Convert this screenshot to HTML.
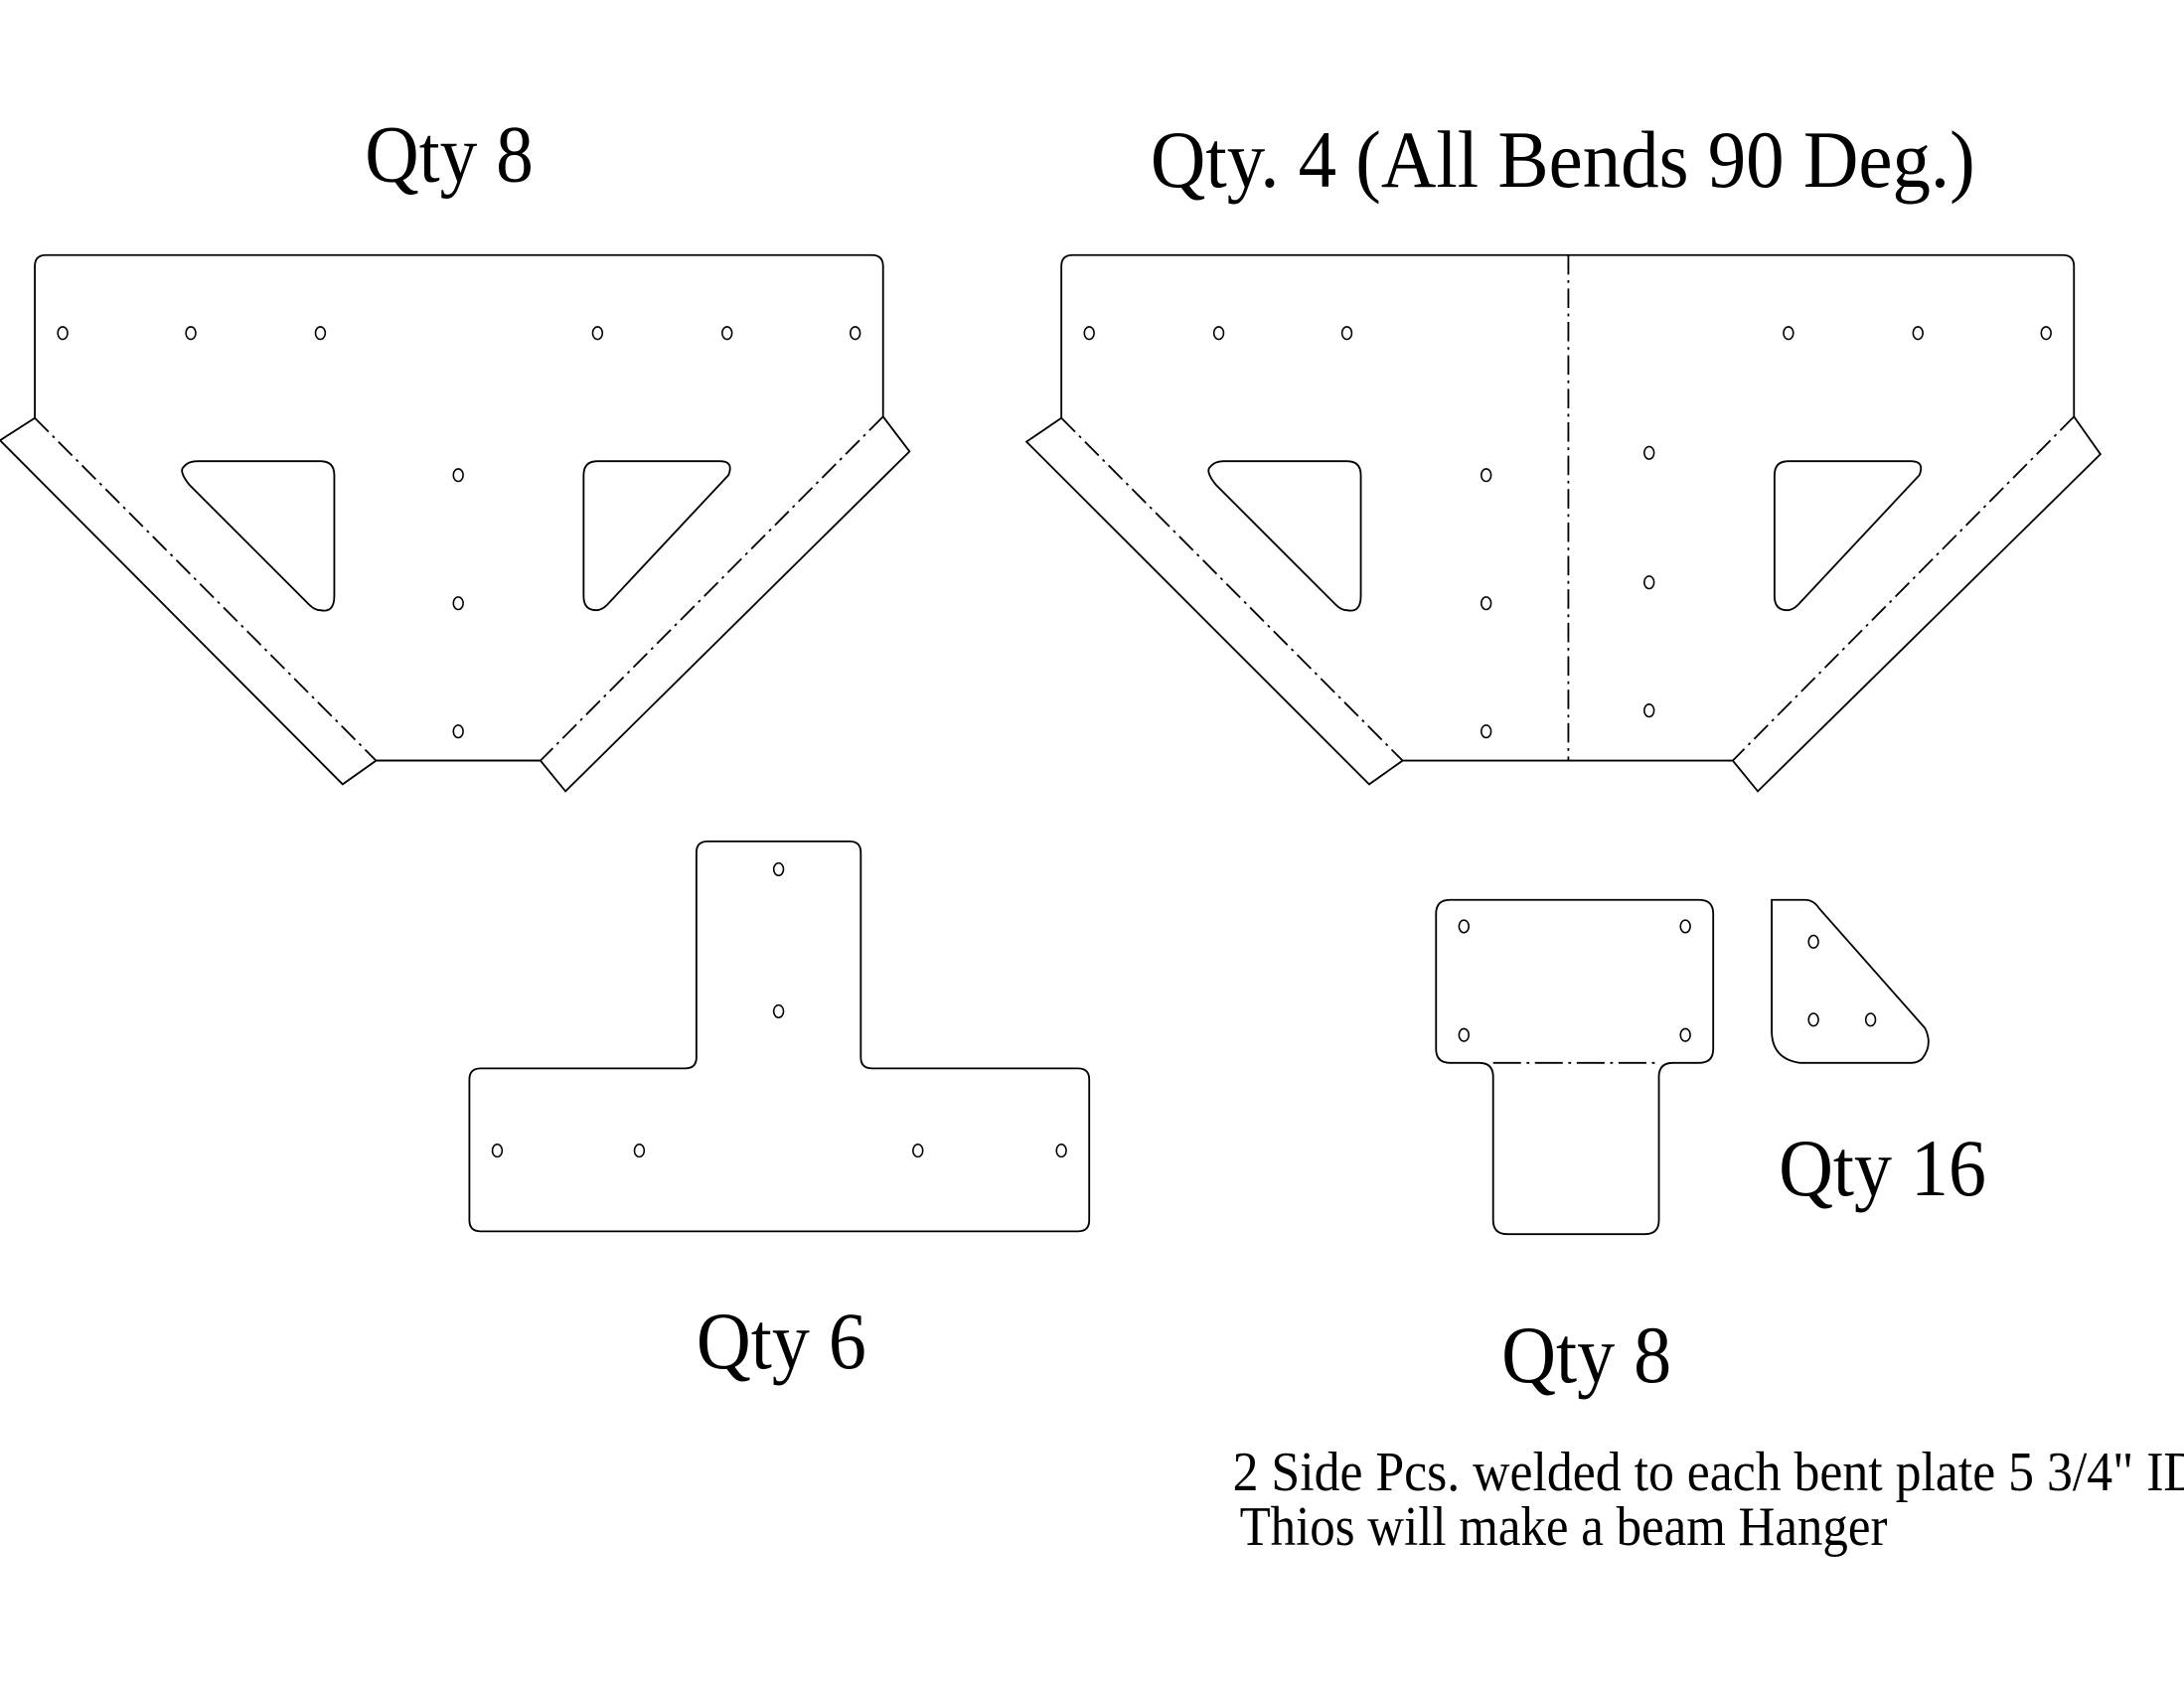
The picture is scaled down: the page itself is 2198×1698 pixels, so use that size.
<!DOCTYPE html>
<html><head><style>html,body{margin:0;padding:0;background:#fff}svg{display:block}</style></head>
<body>
<svg width="2198" height="1698" viewBox="0 0 1568 1211" xmlns="http://www.w3.org/2000/svg">
<rect width="1568" height="1211" fill="#fff"/>
<g fill="none" stroke="#000" stroke-width="1.3">
<path d="M25,300 L25,191 Q25,183 33,183 L626,183 Q634,183 634,191 L634,299 L653,324 L406,568 L388,546 L270,546 L246,563 L0,316 Z"/>
<line x1="270" y1="546" x2="388" y2="546"/>
<path d="M25,300 L270,546 M634,299 L388,546" stroke-dasharray="14,4,2,4"/>
<path d="M142,331 L230,331 Q240,331 240,341 L240,428 Q240,440 230,438 Q226,438 222,434 L136,348 Q128,338 132,335 Q135,331 142,331 Z"/>
<path d="M429,331 L517,331 Q527,331 523,341 L436,434 Q432,438 428,438 Q419,438 419,428 L419,341 Q419,331 429,331 Z"/>
<path d="M762,300 L762,191 Q762,183 770,183 L1481,183 Q1489,183 1489,191 L1489,299 L1508,326 L1262,568 L1244,546 L1007,546 L983,563 L737,317 Z"/>
<path d="M762,300 L1007,546 M1489,299 L1244,546 M1126,183 L1126,546" stroke-dasharray="14,4,2,4"/>
<path d="M879,331 L967,331 Q977,331 977,341 L977,428 Q977,440 967,438 Q963,438 959,434 L873,348 Q865,338 869,335 Q872,331 879,331 Z"/>
<path d="M1284,331 L1372,331 Q1382,331 1378,341 L1291,434 Q1287,438 1283,438 Q1274,438 1274,428 L1274,341 Q1274,331 1284,331 Z"/>
<path d="M508,604 L610,604 Q618,604 618,612 L618,759 Q618,767 626,767 L774,767 Q782,767 782,775 L782,876 Q782,884 774,884 L345,884 Q337,884 337,876 L337,775 Q337,767 345,767 L492,767 Q500,767 500,759 L500,612 Q500,604 508,604 Z"/>
<path d="M1041,646 L1220,646 Q1230,646 1230,656 L1230,753 Q1230,763 1220,763 L1201,763 Q1191,763 1191,773 L1191,876 Q1191,886 1181,886 L1082,886 Q1072,886 1072,876 L1072,773 Q1072,763 1062,763 L1041,763 Q1031,763 1031,753 L1031,656 Q1031,646 1041,646 Z"/>
<line x1="1072" y1="763" x2="1191" y2="763" stroke-dasharray="20,4,2,4"/>
<path d="M1272,646 L1296,646 Q1302,646 1306,652 L1382,738 Q1388,750 1380,760 Q1377,763 1372,763 L1292,763 Q1272,760 1272,740 Z"/>
<g stroke-width="1.1">
<ellipse cx="45" cy="239" rx="3.5" ry="4.5"/><ellipse cx="137" cy="239" rx="3.5" ry="4.5"/><ellipse cx="230" cy="239" rx="3.5" ry="4.5"/>
<ellipse cx="429" cy="239" rx="3.5" ry="4.5"/><ellipse cx="522" cy="239" rx="3.5" ry="4.5"/><ellipse cx="614" cy="239" rx="3.5" ry="4.5"/>
<ellipse cx="329" cy="341" rx="3.5" ry="4.5"/><ellipse cx="329" cy="433" rx="3.5" ry="4.5"/><ellipse cx="329" cy="525" rx="3.5" ry="4.5"/>
<ellipse cx="782" cy="239" rx="3.5" ry="4.5"/><ellipse cx="875" cy="239" rx="3.5" ry="4.5"/><ellipse cx="967" cy="239" rx="3.5" ry="4.5"/>
<ellipse cx="1284" cy="239" rx="3.5" ry="4.5"/><ellipse cx="1377" cy="239" rx="3.5" ry="4.5"/><ellipse cx="1469" cy="239" rx="3.5" ry="4.5"/>
<ellipse cx="1067" cy="341" rx="3.5" ry="4.5"/><ellipse cx="1067" cy="433" rx="3.5" ry="4.5"/><ellipse cx="1067" cy="525" rx="3.5" ry="4.5"/>
<ellipse cx="1184" cy="325" rx="3.5" ry="4.5"/><ellipse cx="1184" cy="418" rx="3.5" ry="4.5"/><ellipse cx="1184" cy="510" rx="3.5" ry="4.5"/>
<ellipse cx="559" cy="624" rx="3.5" ry="4.5"/><ellipse cx="559" cy="726" rx="3.5" ry="4.5"/>
<ellipse cx="357" cy="826" rx="3.5" ry="4.5"/><ellipse cx="459" cy="826" rx="3.5" ry="4.5"/><ellipse cx="659" cy="826" rx="3.5" ry="4.5"/><ellipse cx="762" cy="826" rx="3.5" ry="4.5"/>
<ellipse cx="1051" cy="665" rx="3.5" ry="4.5"/><ellipse cx="1210" cy="665" rx="3.5" ry="4.5"/><ellipse cx="1051" cy="743" rx="3.5" ry="4.5"/><ellipse cx="1210" cy="743" rx="3.5" ry="4.5"/>
<ellipse cx="1302" cy="676" rx="3.5" ry="4.5"/><ellipse cx="1302" cy="732" rx="3.5" ry="4.5"/><ellipse cx="1343" cy="732" rx="3.5" ry="4.5"/>
</g>
</g>
<g font-family="'Liberation Serif', serif" fill="#000">
<text x="262" y="130" font-size="58" textLength="121" lengthAdjust="spacingAndGlyphs">Qty 8</text>
<text x="826" y="134" font-size="58" textLength="592" lengthAdjust="spacingAndGlyphs">Qty. 4 (All Bends 90 Deg.)</text>
<text x="500" y="982" font-size="58" textLength="122" lengthAdjust="spacingAndGlyphs">Qty 6</text>
<text x="1078" y="992" font-size="58" textLength="122" lengthAdjust="spacingAndGlyphs">Qty 8</text>
<text x="1277" y="858" font-size="58" textLength="149" lengthAdjust="spacingAndGlyphs">Qty 16</text>
<text x="885" y="1070" font-size="40" textLength="695" lengthAdjust="spacingAndGlyphs">2 Side Pcs. welded to each bent plate 5 3/4" ID</text>
<text x="890" y="1109" font-size="40" textLength="465" lengthAdjust="spacingAndGlyphs">Thios will make a beam Hanger</text>
</g>
</svg>
</body></html>
